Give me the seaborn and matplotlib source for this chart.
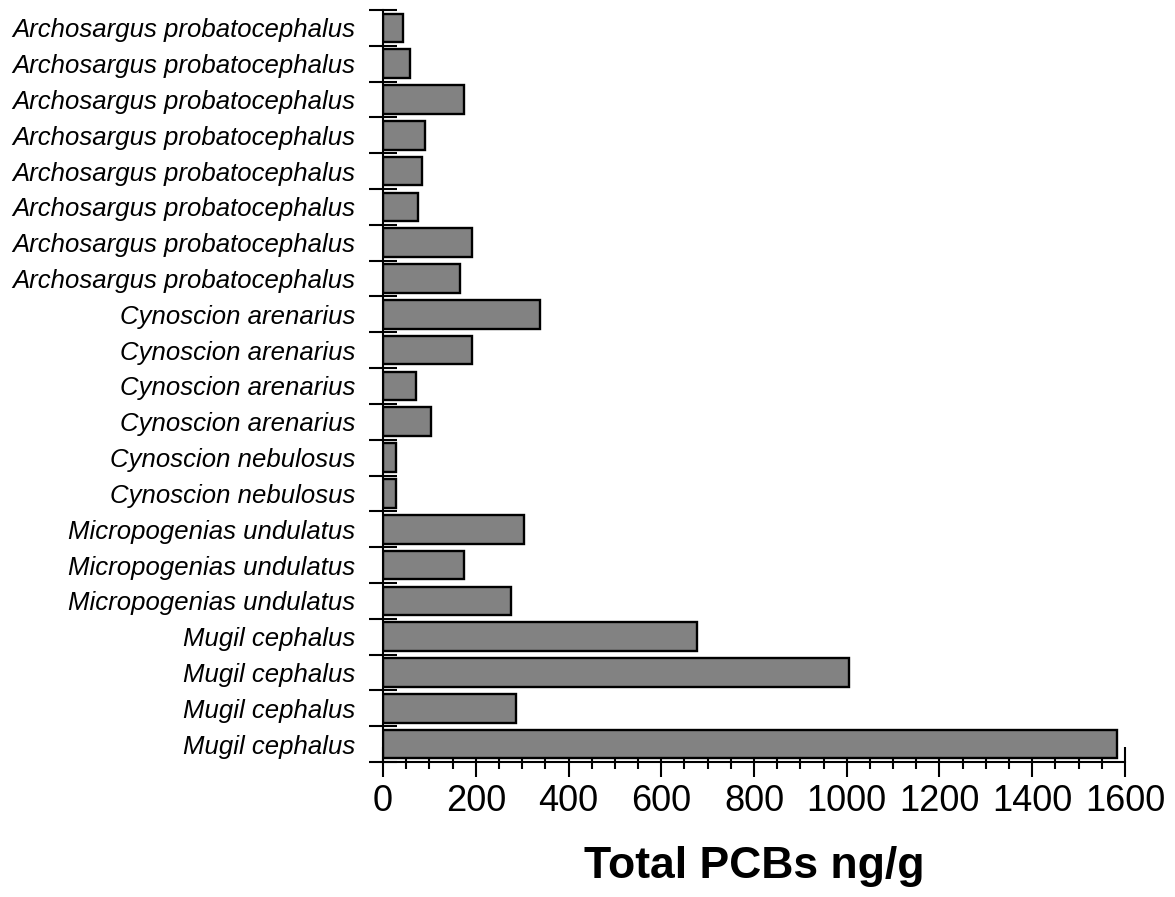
import numpy as np
import pandas as pd
import matplotlib
matplotlib.use("Agg")
import matplotlib.pyplot as plt
import seaborn as sns

# species for each bar, top to bottom
species = [
    "Archosargus probatocephalus", "Archosargus probatocephalus",
    "Archosargus probatocephalus", "Archosargus probatocephalus",
    "Archosargus probatocephalus", "Archosargus probatocephalus",
    "Archosargus probatocephalus", "Archosargus probatocephalus",
    "Cynoscion arenarius", "Cynoscion arenarius",
    "Cynoscion arenarius", "Cynoscion arenarius",
    "Cynoscion nebulosus", "Cynoscion nebulosus",
    "Micropogenias undulatus", "Micropogenias undulatus",
    "Micropogenias undulatus",
    "Mugil cephalus", "Mugil cephalus", "Mugil cephalus", "Mugil cephalus",
]
# total PCBs (ng/g)
pcbs = [44, 58, 175, 90, 85, 76, 192, 165,
        338, 192, 71, 104,
        29, 29,
        304, 175, 277,
        677, 1004, 286, 1582]
x_ticks = [0, 200, 400, 600, 800, 1000, 1200, 1400, 1600]

df = pd.DataFrame({"row": [str(i) for i in range(len(species))],
                   "species": species, "pcbs": pcbs})

sns.set_style("ticks")
plt.rcParams["font.family"] = ["Liberation Sans", "DejaVu Sans"]
plt.rcParams["text.color"] = "black"
plt.rcParams["axes.labelcolor"] = "black"
plt.rcParams["xtick.color"] = "black"
plt.rcParams["ytick.color"] = "black"

fig = plt.figure(figsize=(11.75, 8.97), dpi=100)
ax = fig.add_axes([0.326, 0.1505, 0.6314, 0.8384])

sns.barplot(data=df, x="pcbs", y="row", order=df["row"], orient="h",
            color="#828282", saturation=1, edgecolor="black", linewidth=1.7,
            width=0.8, ax=ax)

n = len(species)
ax.set_ylim(n - 0.5, -0.5)
ax.set_xlim(0, 1600)

ax.set_yticks(range(n))
ax.set_yticklabels(species, style="italic", fontsize=18.5)
ax.set_yticks(np.arange(-0.5, n, 1), minor=True)
ax.tick_params(axis="y", which="major", direction="in", length=6, width=1.5, pad=20)
ax.tick_params(axis="y", which="minor", direction="inout", length=19.5, width=1.5)

ax.set_xticks(x_ticks)
ax.set_xticklabels([str(t) for t in x_ticks], fontsize=26)
ax.set_xticks(np.arange(0, 1601, 50), minor=True)
ax.tick_params(axis="x", which="major", direction="inout", length=21, width=1.5, pad=5)
ax.tick_params(axis="x", which="minor", direction="inout", length=10, width=1.5)

for s in ["top", "right"]:
    ax.spines[s].set_visible(False)
for s in ["left", "bottom"]:
    ax.spines[s].set_linewidth(1.5)
    ax.spines[s].set_color("black")

ax.set_ylabel("")
ax.set_xlabel("Total PCBs ng/g", fontsize=32, fontweight="bold", labelpad=20)

fig.savefig("out.png", dpi=100)
